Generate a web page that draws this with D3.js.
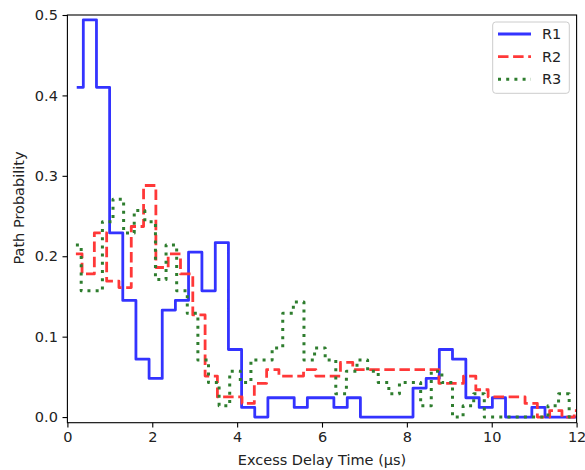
<!DOCTYPE html>
<html>
<head>
<meta charset="utf-8">
<script src="https://cdn.jsdelivr.net/npm/d3@7"></script>
<style>
  body { margin: 0; background: #fff; }
  svg { display: block; font-family: "DejaVu Sans", sans-serif; }
</style>
</head>
<body>
<div id="chart"></div>
<script>
// excess delay (us) at each bin centre, and path probability per bin
var delayR1 = [0.22,0.53,0.84,1.15,1.46,1.77,2.08,2.39,2.70,3.01,3.33,3.64,3.95,4.26,4.57,4.88,5.19,5.50,5.81,6.12,
               6.44,6.75,7.06,7.37,7.68,7.99,8.30,8.61,8.92,9.23,9.55,9.86,10.17,10.48,10.79,11.10,11.41,11.72,12.03];
var probR1  = [0.410,0.494,0.410,0.229,0.145,0.072,0.048,0.133,0.145,0.205,0.157,0.217,0.084,0.012,0,0.024,0.024,0.012,0.024,0.024,
               0.012,0.024,0,0,0,0,0.036,0.048,0.084,0.072,0.024,0.012,0.024,0,0,0.012,0,0,0];

var delayR2 = [0.20,0.49,0.78,1.07,1.36,1.65,1.94,2.23,2.52,2.81,3.10,3.39,3.68,3.97,4.26,4.55,4.84,5.13,5.42,5.71,6.00,
               6.29,6.58,6.87,7.16,7.45,7.74,8.03,8.32,8.61,8.90,9.19,9.48,9.77,10.06,10.35,10.64,10.93,11.22,11.51,11.80,12.09];
var probR2  = [0.203,0.178,0.229,0.169,0.161,0.237,0.288,0.186,0.203,0.178,0.127,0.051,0.025,0.025,0.017,0.042,0.059,0.051,0.051,0.059,0.051,
               0.051,0.068,0.059,0.059,0.059,0.059,0.059,0.059,0.059,0.042,0.042,0.051,0.034,0.025,0.025,0.025,0.017,0,0.008,0,0.008];

var delayR3 = [0.20,0.45,0.70,0.95,1.20,1.45,1.70,1.95,2.20,2.45,2.70,2.95,3.20,3.45,3.70,3.95,4.20,4.45,4.70,4.95,5.20,5.45,5.70,5.95,
               6.20,6.45,6.70,6.95,7.20,7.45,7.70,7.95,8.20,8.45,8.70,8.95,9.20,9.45,9.70,9.95,10.20,10.45,10.70,10.95,11.20,11.45,11.70,11.95];
var probR3  = [0.214,0.157,0.157,0.243,0.271,0.229,0.257,0.243,0.171,0.214,0.157,0.129,0.071,0.043,0.014,0.057,0.043,0.071,0.071,0.086,0.129,0.143,0.071,0.086,
               0.071,0.029,0.057,0.071,0.057,0.043,0.029,0.043,0.043,0.014,0.057,0.043,0,0.014,0.029,0,0,0,0,0,0,0.014,0.029,0];

var seriesNames = ["R1", "R2", "R3"];
var xTicks = [0, 2, 4, 6, 8, 10, 12];
var yTicks = [0.0, 0.1, 0.2, 0.3, 0.4, 0.5];

var W = 585, H = 470;
var margin = {top: 15, right: 8.4, bottom: 47.3, left: 67.4},
    width = W - margin.left - margin.right,
    height = H - margin.top - margin.bottom;
var fs = 14.5;

var x = d3.scaleLinear().domain([0, 12]).range([0, width]);
var y = d3.scaleLinear().domain([-0.007, 0.5]).range([height, 0]);

var svg = d3.select("#chart").append("svg")
    .attr("width", W)
    .attr("height", H);

var g = svg.append("g")
    .attr("transform", "translate(" + margin.left + "," + margin.top + ")");

g.append("clipPath").attr("id", "plotclip")
  .append("rect").attr("width", width).attr("height", height);

var series = [
  {name: seriesNames[0], xs: delayR1, ys: probR1, color: "rgb(51,51,255)", dash: null, lw: 2.8},
  {name: seriesNames[1], xs: delayR2, ys: probR2, color: "rgb(255,56,56)", dash: "10.5,4.6", lw: 2.8},
  {name: seriesNames[2], xs: delayR3, ys: probR3, color: "rgb(46,125,46)", dash: "3,5.2", lw: 3}
];

var line = d3.line()
    .x(function(d) { return x(d[0]); })
    .y(function(d) { return y(d[1]); })
    .curve(d3.curveStep);

var lines = g.append("g").attr("clip-path", "url(#plotclip)");
series.forEach(function(s) {
  var pts = s.xs.map(function(v, i) { return [v, s.ys[i]]; });
  lines.append("path")
      .datum(pts)
      .attr("d", line)
      .attr("fill", "none")
      .attr("stroke", s.color)
      .attr("stroke-width", s.lw)
      .attr("stroke-linejoin", "round")
      .attr("stroke-dasharray", s.dash);
});

// axes
var xAxis = g.append("g")
    .attr("transform", "translate(0," + height + ")")
    .call(d3.axisBottom(x).tickValues(xTicks).tickFormat(d3.format("d")).tickSize(4.9).tickPadding(4.6).tickSizeOuter(0));
var yAxis = g.append("g")
    .call(d3.axisLeft(y).tickValues(yTicks).tickFormat(d3.format(".1f")).tickSize(4.9).tickPadding(4.6).tickSizeOuter(0));

[xAxis, yAxis].forEach(function(a) {
  a.select(".domain").remove();
  a.selectAll(".tick line").attr("stroke", "#000").attr("stroke-width", 1.1);
  a.selectAll(".tick text").attr("fill", "#222").style("font-size", fs + "px").style("font-family", "DejaVu Sans");
});

// frame
g.append("rect")
    .attr("width", width).attr("height", height)
    .attr("fill", "none").attr("stroke", "#000").attr("stroke-width", 1.1);

// axis labels
svg.append("text")
    .attr("x", margin.left + width / 2).attr("y", 465)
    .attr("text-anchor", "middle")
    .attr("fill", "#222")
    .style("font-size", fs + "px")
    .text("Excess Delay Time (µs)");

svg.append("text")
    .attr("transform", "translate(23.5,208) rotate(-90)")
    .attr("text-anchor", "middle")
    .attr("fill", "#222")
    .style("font-size", fs + "px")
    .text("Path Probability");

// legend
var leg = svg.append("g");
leg.append("rect")
    .attr("x", 492.7).attr("y", 22).attr("width", 76.6).attr("height", 71.3)
    .attr("rx", 3).attr("ry", 3)
    .attr("fill", "#fff").attr("fill-opacity", 0.8)
    .attr("stroke", "#ccc").attr("stroke-width", 1);

series.forEach(function(s, i) {
  var ly = 34 + i * 22.6;
  leg.append("line")
      .attr("x1", 498).attr("x2", 531).attr("y1", ly).attr("y2", ly)
      .attr("stroke", s.color).attr("stroke-width", s.lw)
      .attr("stroke-dasharray", s.dash);
  leg.append("text")
      .attr("x", 542).attr("y", ly).attr("dy", "0.36em")
      .attr("fill", "#222")
      .style("font-size", fs + "px")
      .text(s.name);
});
</script>
</body>
</html>
